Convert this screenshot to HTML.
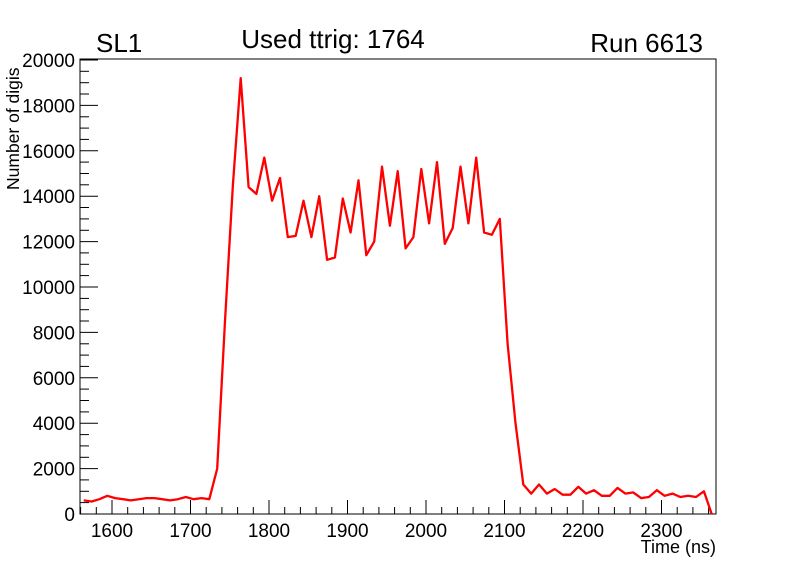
<!DOCTYPE html>
<html><head><meta charset="utf-8"><style>
body{margin:0;background:#fff;}
svg{display:block;font-family:"Liberation Sans",sans-serif;}
</style></head><body>
<svg id="s" width="796" height="572" xmlns="http://www.w3.org/2000/svg">
<rect x="0" y="0" width="796" height="572" fill="#fff"/>
<rect x="80" y="59" width="636" height="455" fill="none" stroke="#000" stroke-width="1"/>
<text x="96" y="52" font-size="26">SL1</text>
<text x="333" y="48" font-size="26" text-anchor="middle">Used ttrig: 1764</text>
<text x="703" y="52" font-size="26" text-anchor="end">Run 6613</text>
<text x="716" y="553" font-size="18" text-anchor="end">Time (ns)</text>
<text transform="translate(19,190) rotate(-90)" font-size="17.5">Number of digis</text>
<g id="ax" stroke="#000" stroke-width="1"></g>
<g id="lab" font-size="19"></g>
<polyline id="pl" fill="none" stroke="#ff0000" stroke-width="2.3" stroke-linejoin="round"/>
</svg>
<script>
var X=function(t){return 112+(t-1600)*0.785;};
var Y=function(v){return 514-v*0.0227;};
var ax=document.getElementById('ax'),lab=document.getElementById('lab'),h='',l='';
for(var v=0;v<=20000;v+=500){var y=Y(v).toFixed(1);var L=(v%2000==0)?18:9;h+='<line x1="80" y1="'+y+'" x2="'+(80+L)+'" y2="'+y+'"/>';
if(v%2000==0)l+='<text x="75" y="'+(Y(v)+7)+'" text-anchor="end">'+v+'</text>';}
for(var t=1560;t<=2360;t+=20){var x=X(t).toFixed(1);var L=(t%100==0)?14:7;h+='<line x1="'+x+'" y1="514" x2="'+x+'" y2="'+(514-L)+'"/>';
if(t%100==0)l+='<text x="'+x+'" y="537" text-anchor="middle">'+t+'</text>';}
ax.innerHTML=h;lab.innerHTML=l;
var d=[600,550,650,800,700,650,600,650,700,700,650,600,650,750,650,700,650,2000,8500,14500,19200,
14400,14100,15700,13800,14800,12200,12250,13800,12200,14000,11200,11300,13900,12400,14700,11400,12000,15300,12700,15100,11700,12200,15200,12800,15500,11900,12600,15300,12800,15700,12400,12300,13000,7500,4000,1300,900,1300,900,1100,850,850,1200,900,1050,800,800,1150,900,950,700,750,1050,800,900,750,800,750,1000,0];
var p=[];for(var i=0;i<d.length;i++){p.push(X(1564+10*i).toFixed(1)+','+Y(d[i]).toFixed(1));}
document.getElementById('pl').setAttribute('points',p.join(' '));
</script>
</body></html>
